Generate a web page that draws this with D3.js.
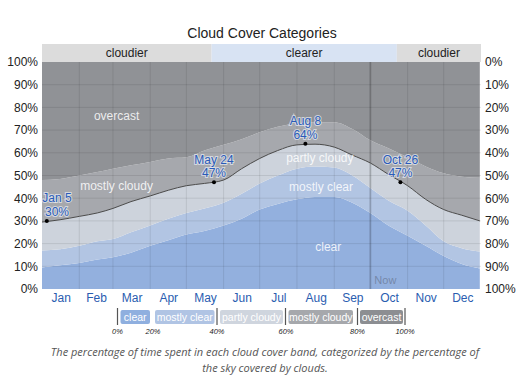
<!DOCTYPE html>
<html>
<head>
<meta charset="utf-8">
<script src="https://cdn.jsdelivr.net/npm/d3@7"></script>
<style>
  html, body { margin: 0; padding: 0; background: #fff; }
  svg { display: block; }
</style>
</head>
<body>
<svg id="chart" width="530" height="391"></svg>
<script>
// ---- data ----
const title = "Cloud Cover Categories";
const days = [0,15,31,46,59,74,90,105,120,135,151,166,181,196,212,227,243,258,273,288,304,319,334,349,364];
// share of time (%) in each band
const clear        = [9.5,10.5,11.5,13,14,16,19,21.5,24,25.5,28,31,35,37.5,39.5,40.5,40.5,38,33.5,28,23.5,19,14.5,11,9];
const mostlyClear  = [7.5,7,7.5,8,8,9,9,9.5,9.5,10,10,11,11.5,12.5,13.5,13.5,13,12,11,11,11,9,6.5,7,7.5];
const partlyCloudy = [12.5,13,13,12.5,13.5,13.5,13,12.5,12,11,10,11,11,11,10.5,9.8,9,9,11,11.5,11,11.5,14,14.5,13.5];
const mostlyCloudy = [18.5,18,18,18,17.5,16,15,14,12.5,14.5,15.5,13,11.5,10.5,9.5,9.7,11,11.5,10,11.5,12.5,14.5,16,17,19];
const overcast     = [52,51.5,50,48.5,47,45.5,44,42.5,42,39,36.5,34,31,28.5,27,26.5,26.5,29.5,34.5,38,42,46,49,50.5,51];

const bandNames  = ["clear","mostly clear","partly cloudy","mostly cloudy","overcast"];
const bandColors = ["#93b0de","#b2c5e3","#cdd3dc","#a6a8ad","#909296"];
const legendColors = ["#8fafdf","#b0c4e4","#cfd5de","#a6a8ac","#8c8e92"];

const monthNames = ["Jan","Feb","Mar","Apr","May","Jun","Jul","Aug","Sep","Oct","Nov","Dec"];
const monthStarts = [0,31,59,90,120,151,181,212,243,273,304,334,365];
const yTicks = [0,10,20,30,40,50,60,70,80,90,100];

const headerLabels = ["cloudier","clearer","cloudier"];
const headerBreaks = [0,141,295,365];

const annotations = [
  {label:"Jan 5",  day:4,   value:30},
  {label:"May 24", day:143, value:47},
  {label:"Aug 8",  day:219, value:64},
  {label:"Oct 26", day:298, value:47}
];
const nowDay = 273;

const legendTicks = ["0%","20%","40%","60%","80%","100%"];
const caption = ["The percentage of time spent in each cloud cover band, categorized by the percentage of",
                 "the sky covered by clouds."];

// ---- drawing ----
const svg = d3.select("#chart");
const x = d3.scaleLinear().domain([0,365]).range([42,481]);
const y = d3.scaleLinear().domain([0,100]).range([289,62]);
const FONT = "Liberation Sans, Arial, sans-serif";

svg.append("text").attr("x",262).attr("y",38).attr("text-anchor","middle")
  .attr("font-family",FONT).attr("font-size",14).attr("fill","#222")
  .text(title);

// header band
const hdrCol = ["#dcdcdc","#d8e3f3","#dcdcdc"];
headerLabels.forEach((lab,i)=>{
  svg.append("rect").attr("x",x(headerBreaks[i])).attr("y",44)
    .attr("width",x(headerBreaks[i+1])-x(headerBreaks[i])).attr("height",18).attr("fill",hdrCol[i]);
  svg.append("text").attr("x",(x(headerBreaks[i])+x(headerBreaks[i+1]))/2).attr("y",57)
    .attr("text-anchor","middle").attr("font-family",FONT)
    .attr("font-size",12).attr("fill","#222").text(lab);
});

// stacked areas
const rows = days.map((d,i)=>({day:d, b0:clear[i], b1:mostlyClear[i], b2:partlyCloudy[i], b3:mostlyCloudy[i], b4:overcast[i]}));
const stack = d3.stack().keys(["b0","b1","b2","b3","b4"]);
const series = stack(rows);
const area = d3.area().x(d=>x(d.data.day)).y0(d=>y(d[0])).y1(d=>y(Math.min(100,d[1]))).curve(d3.curveMonotoneX);
svg.append("g").selectAll("path").data(series).join("path")
  .attr("d", area).attr("fill",(d,i)=>bandColors[i]);

// grid
const grid = svg.append("g");
yTicks.slice(1,-1).forEach(t=>{
  grid.append("line").attr("x1",x(0)).attr("x2",x(365)).attr("y1",y(t)).attr("y2",y(t))
    .attr("stroke","rgba(0,0,0,0.09)").attr("stroke-width",1);
});
monthStarts.slice(1,-1).forEach(m=>{
  grid.append("line").attr("x1",x(m)).attr("x2",x(m)).attr("y1",y(0)).attr("y2",y(100))
    .attr("stroke","rgba(0,0,0,0.09)").attr("stroke-width",1);
});
// now line
svg.append("line").attr("x1",x(nowDay)).attr("x2",x(nowDay)).attr("y1",y(0)).attr("y2",y(100))
  .attr("stroke","rgba(0,0,0,0.15)").attr("stroke-width",2);
svg.append("text").attr("x",x(nowDay)+4).attr("y",284).attr("font-family",FONT)
  .attr("font-size",11).attr("fill","rgba(90,100,120,0.55)").text("Now");

// boundary line (top of partly cloudy)
const line = d3.line().x(d=>x(d.data.day)).y(d=>y(d[1])).curve(d3.curveMonotoneX);
svg.append("path").attr("d", line(series[2])).attr("fill","none").attr("stroke","#4a4a4a").attr("stroke-width",1);

// band labels
const bandLabelPos = [
  {t:"overcast", day:62, v:76},
  {t:"mostly cloudy", day:62, v:45.5},
  {t:"partly cloudy", day:231, v:57.5},
  {t:"mostly clear", day:232, v:45},
  {t:"clear", day:238, v:18.5}
];
bandLabelPos.forEach(b=>{
  svg.append("text").attr("x",x(b.day)).attr("y",y(b.v)+4).attr("text-anchor","middle")
    .attr("font-family",FONT).attr("font-size",12)
    .attr("fill","rgba(255,255,255,0.85)").text(b.t);
});

// axes
const axL = d3.axisLeft(y).tickValues(yTicks).tickFormat(d=>d+"%").tickSize(0).tickPadding(4);
const gL = svg.append("g").attr("transform",`translate(${x(0)},0)`).call(axL);
const axR = d3.axisRight(y).tickValues(yTicks).tickFormat(d=>(100-d)+"%").tickSize(0).tickPadding(4);
const gR = svg.append("g").attr("transform",`translate(${x(365)},0)`).call(axR);
[gL,gR].forEach(g=>{
  g.select(".domain").remove();
  g.selectAll("text").attr("font-family",FONT).attr("font-size",12).attr("fill","#222");
});
const mid = monthNames.map((m,i)=>(monthStarts[i]+monthStarts[i+1])/2);
const axB = d3.axisBottom(x).tickValues(mid).tickFormat((d,i)=>monthNames[i]).tickSize(0).tickPadding(4);
const gB = svg.append("g").attr("transform",`translate(0,${y(0)})`).call(axB);
gB.select(".domain").remove();
gB.selectAll("text").attr("font-family",FONT).attr("font-size",12).attr("fill","#2a5db0");

// annotations
annotations.forEach(a=>{
  const px = x(a.day), py = y(a.value);
  svg.append("circle").attr("cx",px).attr("cy",py).attr("r",2).attr("fill","#000");
  const tx = Math.max(px, 57);
  [a.label, a.value+"%"].forEach((t,k)=>{
    svg.append("text").attr("x",tx).attr("y",py-18.5+k*13.5).attr("text-anchor","middle")
      .attr("font-family",FONT).attr("font-size",12)
      .attr("fill","#2a5bb8").attr("stroke","rgba(235,238,245,0.7)").attr("stroke-width",2)
      .attr("paint-order","stroke").text(t);
  });
});

// legend
const legItems = [
  {x0:120.5, x1:150},
  {x0:155, x1:214.5},
  {x0:220, x1:283},
  {x0:288.5, x1:353},
  {x0:360, x1:403}
];
const lg = svg.append("g");
legItems.forEach((it,i)=>{
  lg.append("rect").attr("x",it.x0).attr("y",310).attr("width",it.x1-it.x0).attr("height",14).attr("rx",2).attr("fill",legendColors[i]);
  lg.append("text").attr("x",(it.x0+it.x1)/2).attr("y",321).attr("text-anchor","middle")
    .attr("font-family",FONT).attr("font-size",10.5).attr("fill","#fff").text(bandNames[i]);
});
const dividers = [117.5,217,285.5,357.5,405];
dividers.forEach(dx=>{
  lg.append("line").attr("x1",dx).attr("x2",dx).attr("y1",308).attr("y2",325).attr("stroke","#555").attr("stroke-width",1.2);
});
const legTickX = [117.5,153,217,286,357.5,405];
legendTicks.forEach((t,i)=>{
  lg.append("text").attr("x",legTickX[i]).attr("y",334).attr("text-anchor","middle")
    .attr("font-family",FONT).attr("font-style","italic")
    .attr("font-size",7.5).attr("fill","#222").text(t);
});

// caption
caption.forEach((c,i)=>{
  svg.append("text").attr("x",265).attr("y",356+i*16).attr("text-anchor","middle")
    .attr("font-family","Open Sans, sans-serif").attr("font-style","italic")
    .attr("font-size",11).attr("fill","#555").text(c);
});
</script>
</body>
</html>
